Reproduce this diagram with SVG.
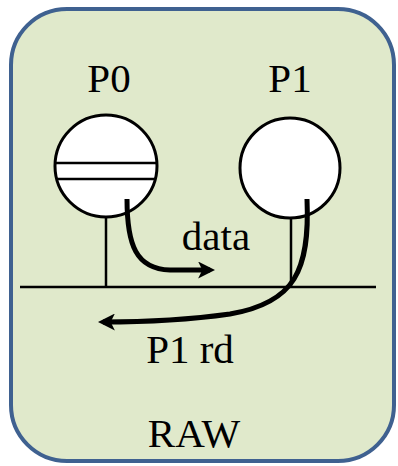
<svg xmlns="http://www.w3.org/2000/svg" width="398" height="466" viewBox="0 0 398 466">
  <style>
    text { font-family: 'Liberation Serif', 'Times New Roman', Times, 'DejaVu Serif', serif; font-size: 41px; fill: #000; }
    .node { fill: #fff; stroke: #000; stroke-width: 3; }
    .thin { stroke: #000; stroke-width: 2.5; fill: none; }
    .flow { stroke: #000; stroke-width: 5; fill: none; stroke-linecap: butt; }
  </style>
  <defs>
    <marker id="ah" viewBox="0 0 10 10" refX="7" refY="5" markerWidth="3.4" markerHeight="3.4" orient="auto" markerUnits="strokeWidth">
      <path d="M0,0 L10,5 L0,10 L2.5,5 Z" fill="#000"/>
    </marker>
  </defs>

  <!-- frame -->
  <rect x="11" y="9" width="383" height="452" rx="56" ry="56" fill="#e0e9cb" stroke="#3f6190" stroke-width="4"/>

  <!-- bus -->
  <line x1="20" y1="287" x2="376" y2="287" class="thin"/>

  <g id="p0">
    <line x1="106" y1="217" x2="106" y2="287" class="thin"/>
    <circle cx="106" cy="166" r="51" class="node"/>
    <line x1="56" y1="163" x2="156" y2="163" class="thin"/>
    <line x1="57" y1="179" x2="155" y2="179" class="thin"/>
    <text x="109" y="92" text-anchor="middle">P0</text>
  </g>

  <g id="p1">
    <line x1="291" y1="218" x2="291" y2="287" class="thin"/>
    <circle cx="290" cy="168" r="50" class="node"/>
    <text x="290" y="92" text-anchor="middle">P1</text>
  </g>

  <g id="connectors">
    <path d="M127,199 C127,245 136,269 170,270 L210,270" class="flow" marker-end="url(#ah)"/>
    <path d="M307,199 C310,270 295,303 230,314 C180,321 140,322 103,322" class="flow" marker-end="url(#ah)"/>
  </g>

  <text x="216" y="250" text-anchor="middle">data</text>
  <text x="190" y="363" text-anchor="middle">P1 rd</text>
  <text x="194" y="447" text-anchor="middle">RAW</text>
</svg>
